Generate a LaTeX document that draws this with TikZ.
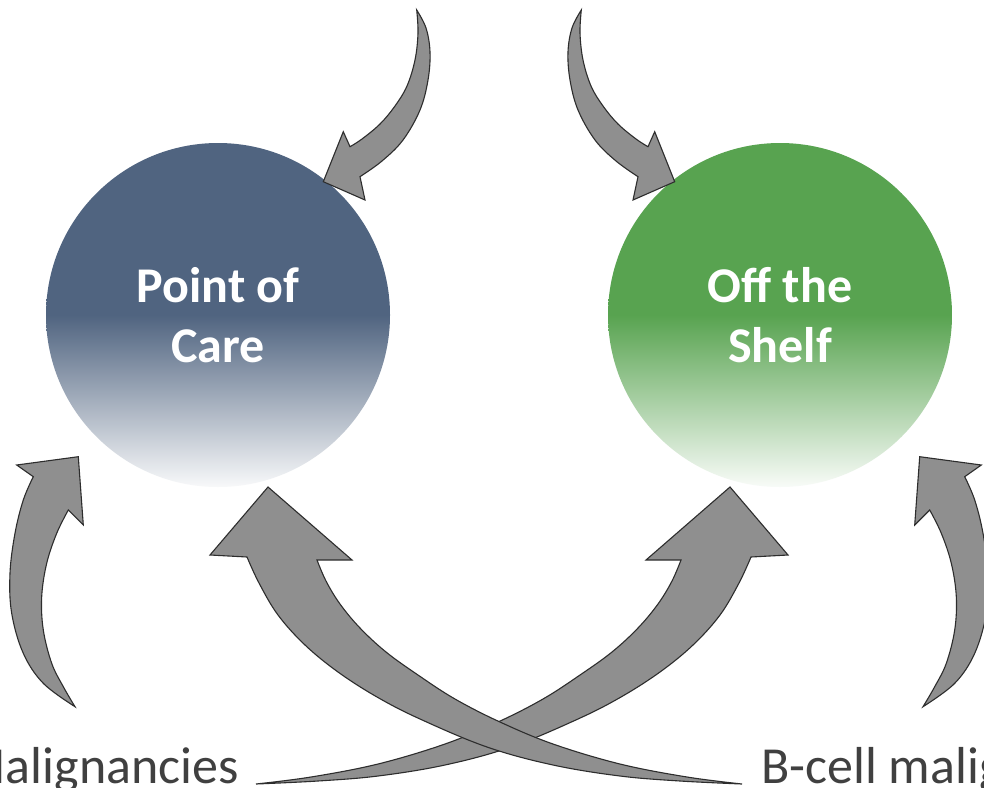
\documentclass[tikz,border=0pt]{standalone}
\usepackage{fontspec}
\setmainfont{Carlito}
\definecolor{pocblue}{RGB}{80,100,128}
\definecolor{otsgreen}{RGB}{88,163,80}
\definecolor{arrowgray}{RGB}{143,143,143}
\definecolor{arrowline}{RGB}{45,45,45}
\begin{document}
\begin{tikzpicture}[x=1pt,y=-1pt,
  blockarrow/.style={fill=arrowgray, draw=arrowline, line width=1.1pt, line join=miter},
  ball/.style={circle, minimum size=344pt, inner sep=0pt,
    top color=#1, bottom color=white!96!#1, middle color=#1,
    text=white, font=\bfseries\fontsize{50}{60}\selectfont, align=center},
  sidetext/.style={inner sep=0pt, text=black!75, font=\fontsize{52}{60}\selectfont},
  mirrored/.style={xshift=998pt, xscale=-1}]

\clip (0,0) rectangle (984,787);
\fill[white] (0,0) rectangle (984,787);

% the two approaches
\node[ball=pocblue]  (poc) at (218,315) {Point of\\Care};
\node[ball=otsgreen] (ots) at (780,315) {Off the\\Shelf};

% indications along the bottom
\node[sidetext, anchor=base east] (mal)   at (239,783) {Malignancies};
\node[sidetext, anchor=base west] (bcell) at (761,783) {B-cell malignancies};

% curved block arrow from the top into Point of Care, and its mirror into Off the Shelf
\def\toparrow{%
  (323.3,181.7) -- (343.3,131.7) -- (350,146.7)
  -- plot[smooth, tension=0.6] coordinates {(350,146.7) (362,139) (380,124) (395,106)
        (407,86) (415,60) (418,33) (416.7,10)}
  -- plot[smooth, tension=0.6] coordinates {(416.7,10) (426,28) (430,52) (428,80)
        (420,110) (403,140) (382,161) (360,176.7)}
  -- (365,200) -- cycle}
\filldraw[blockarrow] \toparrow;
\begin{scope}[mirrored]
  \filldraw[blockarrow] \toparrow;
\end{scope}

% short side arrows rising from the bottom corners
\def\sidearrow{%
  (78.3,456.7) -- (16.7,465) -- (33.3,476.7)
  -- plot[smooth, tension=0.6] coordinates {(33.3,476.7) (23.3,500) (15,533.3) (10,573.3)
        (11.7,613.3) (23.3,653.3) (43.3,683.3) (75,706.7)}
  -- plot[smooth, tension=0.6] coordinates {(75,706.7) (63.3,686.7) (51.7,663.3) (43.3,630)
        (41.7,596.7) (46.7,563.3) (56.7,533.3) (68.3,510)}
  -- (83.3,525) -- cycle}
\filldraw[blockarrow] \sidearrow;
\begin{scope}[mirrored]
  \filldraw[blockarrow] \sidearrow;
\end{scope}

% long crossing arrows: from the bottom left up to Off the Shelf (drawn first),
% and from the bottom right up to Point of Care (on top)
\def\crossarrow{%
  (268,487) -- (210,555) -- (247,557)
  -- plot[smooth, tension=0.6] coordinates {(247,557) (259,583) (278,615) (305,645) (338,672)
        (377,697) (420,719) (487,747) (553,765) (620,776) (680,781) (742,784)}
  -- plot[smooth, tension=0.6] coordinates {(742,784) (687,777) (620,764) (553,744) (500,722)
        (455,699) (418,675) (386,652) (360,628) (340,604) (326,581) (317,560)}
  -- (352,560) -- cycle}
\begin{scope}[mirrored]
  \filldraw[blockarrow] \crossarrow;
\end{scope}
\filldraw[blockarrow] \crossarrow;
\end{tikzpicture}
\end{document}
